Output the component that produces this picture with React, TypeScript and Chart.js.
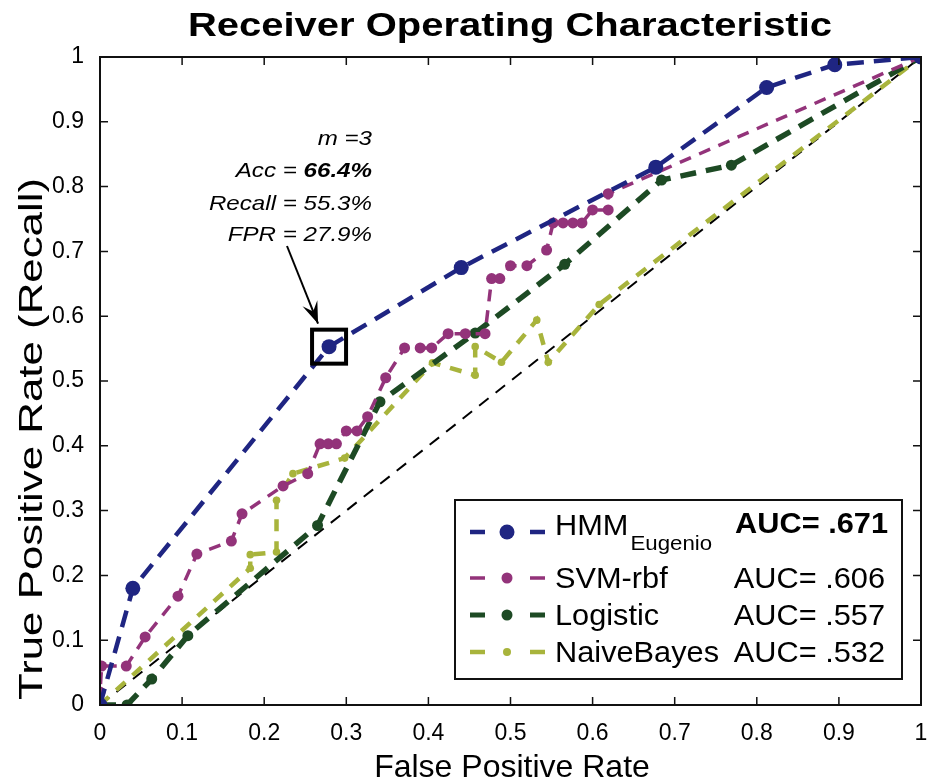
import React, { useEffect, useRef } from "react";
import { Chart, registerables } from "chart.js";
Chart.register(...registerables);

const chartTitle = "Receiver Operating Characteristic";
const xTitle = "False Positive Rate";
const yTitle = "True Positive Rate (Recall)";

const seriesNames = ["HMM", "SVM-rbf", "Logistic", "NaiveBayes"];
const hmmSubscript = "Eugenio";
const aucLabels = ["AUC= .671", "AUC= .606", "AUC= .557", "AUC= .532"];

const hmmFpr = [0, 0.04, 0.279, 0.44, 0.677, 0.812, 0.895, 1];
const hmmTpr = [0, 0.18, 0.553, 0.675, 0.83, 0.953, 0.988, 1];

const svmFpr = [0, 0, 0.002, 0.032, 0.055, 0.095, 0.118, 0.16, 0.173, 0.223, 0.253, 0.268, 0.278, 0.288, 0.3, 0.313, 0.326, 0.348, 0.371, 0.39, 0.404, 0.424, 0.445, 0.469, 0.477, 0.487, 0.5, 0.52, 0.544, 0.552, 0.564, 0.576, 0.587, 0.6, 0.619, 0.619, 1];
const svmTpr = [0, 0.02, 0.06, 0.06, 0.105, 0.168, 0.233, 0.253, 0.295, 0.338, 0.357, 0.403, 0.403, 0.403, 0.423, 0.423, 0.445, 0.505, 0.551, 0.551, 0.551, 0.573, 0.573, 0.573, 0.658, 0.658, 0.678, 0.678, 0.702, 0.744, 0.744, 0.744, 0.744, 0.764, 0.764, 0.789, 1];

const logFpr = [0, 0.033, 0.063, 0.107, 0.265, 0.341, 0.457, 0.566, 0.684, 0.769, 1];
const logTpr = [0, 0, 0.04, 0.107, 0.277, 0.468, 0.574, 0.68, 0.81, 0.833, 1];

const nbFpr = [0, 0.183, 0.183, 0.215, 0.215, 0.235, 0.298, 0.405, 0.457, 0.457, 0.489, 0.532, 0.546, 0.608, 1];
const nbTpr = [0, 0.211, 0.232, 0.236, 0.316, 0.357, 0.381, 0.528, 0.509, 0.553, 0.529, 0.594, 0.529, 0.618, 1];

const chanceFpr = [0, 1];
const chanceTpr = [0, 1];

const tickValues = [0, 0.1, 0.2, 0.3, 0.4, 0.5, 0.6, 0.7, 0.8, 0.9, 1];

const markedFpr = 0.279;
const markedTpr = 0.553;
const noteLines = ["m =3", "Acc = ", "Recall = 55.3%", "FPR = 27.9%"];
const accValue = "66.4%";

const colors = ["#1f2582", "#93337a", "#1d4a24", "#a8b43c"];
const FONT = "'Liberation Sans', Arial, Helvetica, sans-serif";

const zip = (xs: number[], ys: number[]) => xs.map((x, i) => ({ x, y: ys[i] }));
const fmtTick = (v: number) => (v === 0 ? "0" : v === 1 ? "1" : v.toFixed(1));

function drawText(ctx: CanvasRenderingContext2D, text: string, x: number, y: number, font: string, sx: number, align: CanvasTextAlign) {
  ctx.save();
  ctx.font = font;
  ctx.translate(x, y);
  ctx.scale(sx, 1);
  ctx.textAlign = align;
  ctx.fillText(text, 0, 0);
  ctx.restore();
}
function widthOf(ctx: CanvasRenderingContext2D, text: string, font: string) {
  ctx.save();
  ctx.font = font;
  const w = ctx.measureText(text).width;
  ctx.restore();
  return w;
}

const decorPlugin = {
  id: "decor",
  afterDatasetsDraw(chart: any) {
    const ctx: CanvasRenderingContext2D = chart.ctx;
    const { left, right, top, bottom } = chart.chartArea;
    const xs = chart.scales.x;
    const ys = chart.scales.y;
    ctx.save();
    ctx.setLineDash([]);
    // box
    ctx.strokeStyle = "#111";
    ctx.lineWidth = 2;
    ctx.strokeRect(left, top, right - left, bottom - top);
    // inward ticks
    ctx.lineWidth = 1.5;
    tickValues.forEach((v) => {
      const px = xs.getPixelForValue(v);
      const py = ys.getPixelForValue(v);
      ctx.beginPath();
      ctx.moveTo(px, bottom);
      ctx.lineTo(px, bottom - 8);
      ctx.moveTo(px, top);
      ctx.lineTo(px, top + 8);
      ctx.moveTo(left, py);
      ctx.lineTo(left + 8, py);
      ctx.moveTo(right, py);
      ctx.lineTo(right - 8, py);
      ctx.stroke();
    });
    // titles
    ctx.fillStyle = "#000";
    ctx.textBaseline = "alphabetic";
    const tFont = `bold 33px ${FONT}`;
    drawText(ctx, chartTitle, 510, 36, tFont, 644 / widthOf(ctx, chartTitle, tFont), "center");
    drawText(ctx, xTitle, 512, 777, `32px ${FONT}`, 1, "center");
    ctx.save();
    ctx.translate(42, 439);
    ctx.rotate(-Math.PI / 2);
    const yFont = `33px ${FONT}`;
    drawText(ctx, yTitle, 0, 0, yFont, 522 / widthOf(ctx, yTitle, yFont), "center");
    ctx.restore();

    // marked point square
    const mx = xs.getPixelForValue(markedFpr);
    const my = ys.getPixelForValue(markedTpr);
    ctx.strokeStyle = "#000";
    ctx.lineWidth = 4;
    ctx.strokeRect(mx - 17, my - 17, 34, 34);

    // annotation text
    const rx = 372;
    const nsx = 1.15;
    const nFont = `italic 21px ${FONT}`;
    const bFont = `bold italic 21px ${FONT}`;
    drawText(ctx, noteLines[0], rx, 145, nFont, nsx, "right");
    drawText(ctx, accValue, rx, 177, bFont, nsx, "right");
    const accW = widthOf(ctx, accValue, bFont) * nsx;
    drawText(ctx, noteLines[1], rx - accW, 177, nFont, nsx, "right");
    drawText(ctx, noteLines[2], rx, 210, nFont, nsx, "right");
    drawText(ctx, noteLines[3], rx, 241, nFont, nsx, "right");

    // arrow
    const ax0 = 287, ay0 = 246;
    const ax1 = mx - 11, ay1 = my - 23;
    ctx.lineWidth = 2;
    ctx.beginPath();
    ctx.moveTo(ax0, ay0);
    ctx.lineTo(ax1, ay1);
    ctx.stroke();
    const ang = Math.atan2(ay1 - ay0, ax1 - ax0);
    const L = 22, W = 8;
    const bx = ax1 - L * Math.cos(ang), by = ay1 - L * Math.sin(ang);
    const nx = -Math.sin(ang), ny = Math.cos(ang);
    const nbx = ax1 - L * 0.6 * Math.cos(ang), nby = ay1 - L * 0.6 * Math.sin(ang);
    ctx.beginPath();
    ctx.moveTo(ax1, ay1);
    ctx.lineTo(bx + nx * W, by + ny * W);
    ctx.lineTo(nbx, nby);
    ctx.lineTo(bx - nx * W, by - ny * W);
    ctx.closePath();
    ctx.fill();

    // legend
    ctx.fillStyle = "#fff";
    ctx.fillRect(455, 500, 447, 179);
    ctx.strokeStyle = "#111";
    ctx.lineWidth = 2;
    ctx.strokeRect(455, 500, 447, 179);
    const rowY = [532, 578, 615, 652];
    const baseY = [535, 588, 625, 662];
    const lws = [4.5, 3.5, 5, 4.5];
    const radii = [7.5, 5.5, 5.5, 4];
    const lsx = 1.06;
    const lFont = `29px ${FONT}`;
    for (let i = 0; i < 4; i++) {
      const c = colors[i];
      ctx.strokeStyle = c;
      ctx.fillStyle = c;
      ctx.lineWidth = lws[i];
      ctx.beginPath();
      ctx.moveTo(470, rowY[i]);
      ctx.lineTo(485, rowY[i]);
      ctx.moveTo(530, rowY[i]);
      ctx.lineTo(545, rowY[i]);
      ctx.stroke();
      ctx.beginPath();
      ctx.arc(507, rowY[i], radii[i], 0, Math.PI * 2);
      ctx.fill();
      ctx.fillStyle = "#000";
      drawText(ctx, seriesNames[i], 555, baseY[i], lFont, lsx, "left");
      if (i === 0) {
        const w = widthOf(ctx, seriesNames[0], lFont) * lsx;
        drawText(ctx, hmmSubscript, 555 + w + 2, 550, `21px ${FONT}`, lsx, "left");
      }
      drawText(ctx, aucLabels[i], i === 0 ? 888 : 885, i === 0 ? 533 : baseY[i], i === 0 ? `bold 29px ${FONT}` : lFont, lsx, "right");
    }
    ctx.restore();
  },
};

export default function App() {
  const ref = useRef<HTMLCanvasElement>(null);
  useEffect(() => {
    if (!ref.current) return;
    const mk = (label: string, xs: number[], ys: number[], color: string, width: number, dash: number[], radius: number, order: number) => ({
      label,
      data: zip(xs, ys),
      borderColor: color,
      backgroundColor: color,
      pointBackgroundColor: color,
      pointBorderColor: color,
      pointBorderWidth: 0,
      borderWidth: width,
      borderDash: dash,
      pointRadius: radius,
      pointHoverRadius: radius,
      showLine: true,
      fill: false,
      tension: 0,
      order,
    });
    const chart = new Chart(ref.current, {
      type: "scatter",
      data: {
        datasets: [
          mk(seriesNames[0], hmmFpr, hmmTpr, colors[0], 4.5, [17, 10], 7.5, 0),
          mk(seriesNames[1], svmFpr, svmTpr, colors[1], 3.5, [12, 9], 5.5, 1),
          mk(seriesNames[2], logFpr, logTpr, colors[2], 5.5, [16, 10], 5.5, 2),
          mk(seriesNames[3], nbFpr, nbTpr, colors[3], 4.5, [12, 10], 3.8, 3),
          mk("chance", chanceFpr, chanceTpr, "#000", 2, [12, 9], 0, 4),
        ] as any,
      },
      options: {
        animation: false,
        responsive: false,
        events: [],
        layout: { padding: { top: 57, right: 14, left: 0, bottom: 0 } },
        plugins: { legend: { display: false }, title: { display: false }, tooltip: { enabled: false } },
        scales: {
          x: {
            type: "linear",
            min: 0,
            max: 1,
            border: { display: false },
            grid: { display: false, drawTicks: false },
            afterFit: (s: any) => { s.height = 77; s.paddingRight = 0; s.paddingLeft = 0; },
            afterBuildTicks: (s: any) => { s.ticks = tickValues.map((v) => ({ value: v })); },
            ticks: { color: "#000", font: { family: FONT, size: 23 }, padding: 15, maxRotation: 0, autoSkip: false, callback: (v: any) => fmtTick(Number(v)) },
          },
          y: {
            type: "linear",
            min: 0,
            max: 1,
            border: { display: false },
            grid: { display: false, drawTicks: false },
            afterFit: (s: any) => { s.width = 100; s.paddingTop = 0; s.paddingBottom = 0; },
            afterBuildTicks: (s: any) => { s.ticks = tickValues.map((v) => ({ value: v })); },
            ticks: { color: "#000", font: { family: FONT, size: 23 }, padding: 16, autoSkip: false, callback: (v: any) => fmtTick(Number(v)) },
          },
        },
      },
      plugins: [decorPlugin],
    });
    return () => chart.destroy();
  }, []);
  return (
    <div style={{ position: "absolute", left: 0, top: 0, width: 935, height: 782, background: "#fff" }}>
      <canvas ref={ref} width={935} height={782} style={{ width: 935, height: 782 }} />
    </div>
  );
}
